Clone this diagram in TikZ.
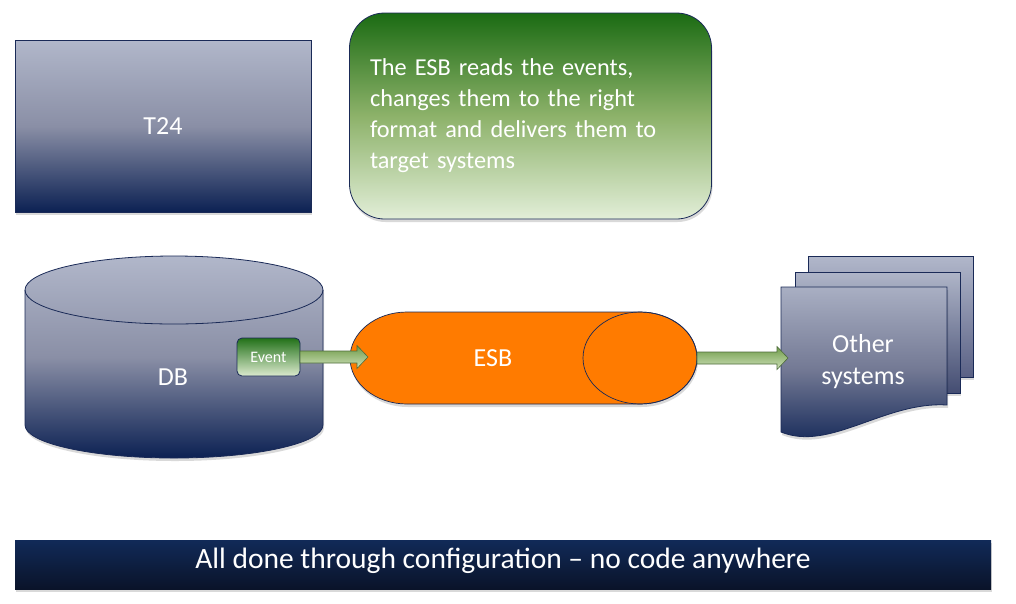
\documentclass[tikz,border=0pt]{standalone}
\usepackage{fontspec}
\setmainfont{Carlito}
\usetikzlibrary{calc,shadows}
\definecolor{navytop}{HTML}{B1B7CA}
\definecolor{navymid}{HTML}{8A8FA6}
\definecolor{navybot}{HTML}{0C2153}
\definecolor{edge}{HTML}{1A2A57}
\definecolor{gdark}{HTML}{1B6B13}
\definecolor{gmid}{HTML}{8DB26A}
\definecolor{glight}{HTML}{E2EED8}
\definecolor{edark}{HTML}{227119}
\definecolor{elight}{HTML}{DCEACE}
\definecolor{atop}{HTML}{6E9A48}
\definecolor{abot}{HTML}{CFE2BA}
\definecolor{aedge}{HTML}{4D6B3A}
\definecolor{esborange}{HTML}{FF7B00}
\definecolor{bartop}{HTML}{112A58}
\definecolor{barbot}{HTML}{0A1329}
\definecolor{pbackbot}{HTML}{5A6185}
\definecolor{pmidtop}{HTML}{AFB5C8}
\definecolor{pmidbot}{HTML}{444D72}
\definecolor{pfronttop}{HTML}{A9AFC3}
\definecolor{pfrontmid}{HTML}{737994}
\newcommand\ESBarrow[2]{%
  \path[fatarrow] let \p1=#1, \p2=#2 in
    (\x1,\y1+6pt) -- (\x2-11pt,\y1+6pt) -- (\x2-11pt,\y1+11.5pt) -- (\x2,\y1)
    -- (\x2-11pt,\y1-11.5pt) -- (\x2-11pt,\y1-6pt) -- (\x1,\y1-6pt) -- cycle;}
\begin{document}
\begin{tikzpicture}[x=1pt,y=-1pt,
  shadowed/.style={drop shadow={opacity=0.15,shadow xshift=1pt,shadow yshift=-3pt,fill=black}},
  navyshade/.style={top color=navytop, bottom color=navybot, middle color=navymid, draw=edge, line width=0.8pt},
  greenshade/.style={top color=gdark, bottom color=glight, middle color=gmid, draw=edge, line width=0.8pt},
  lbl/.style={text=white, font=\fontsize{26}{32}\selectfont, inner sep=0pt, align=center},
  fatarrow/.style={top color=atop, bottom color=abot, draw=aedge, line width=0.6pt},
  boxnode/.style={inner sep=0pt, outer sep=0pt}
]
\fill[white] (0,0) rectangle (1016,603);
\useasboundingbox (0,0) rectangle (1016,603);

% T24
\node[navyshade, shadowed, boxnode, minimum width=296pt, minimum height=172pt,
      text=white, font=\fontsize{26}{30}\selectfont] (t24) at (163,126) {T24};

% Note box
\node[greenshade, shadowed, rounded corners=35pt, minimum width=362pt, minimum height=206pt,
      text width=321pt, align=left, text=white, font=\fontsize{24.3}{31}\selectfont]
      (note) at (530.5,116)
      {The ESB reads the events,\\changes them to the right\\format and delivers them to\\target systems};

% DB cylinder
\path[navyshade, shadowed]
  (25,290) -- (25,425) arc[start angle=180, end angle=0, x radius=149, y radius=33]
  -- (323,290) arc[start angle=0, end angle=-180, x radius=149, y radius=34] -- cycle;
\draw[edge, line width=0.8pt] (25,290) arc[start angle=180, end angle=0, x radius=149, y radius=34];
\node[boxnode, minimum width=298pt, minimum height=202pt] (db) at (174,357) {};
\node[lbl] (dblabel) at (173,377) {DB};

% Event
\node[top color=edark, bottom color=elight, draw=edge, line width=0.8pt, rounded corners=5pt,
      boxnode, minimum width=63pt, minimum height=38pt, text=white,
      font=\fontsize{16}{18}\selectfont] (ev) at (268.5,357) {Event};

% ESB
\path[fill=esborange, draw=edge, line width=0.7pt, shadowed]
  (407,312) -- (640,312) arc[start angle=-90, end angle=90, x radius=57, y radius=46]
  -- (407,404) arc[start angle=90, end angle=270, x radius=57, y radius=46] -- cycle;
\draw[edge, line width=0.7pt] (640,358) ellipse[x radius=57, y radius=46];
\node[boxnode, minimum width=347pt, minimum height=92pt] (esb) at (523.5,358) {};
\node[lbl] (esblabel) at (493,358) {ESB};

% Other systems (multi-document)
\path[top color=navytop, bottom color=pbackbot, draw=edge, line width=0.8pt, shadowed]
  (808,256) rectangle (973,377);
\path[top color=pmidtop, bottom color=pmidbot, draw=edge, line width=0.8pt, shadowed]
  (795,272) rectangle (960,393);
\path[top color=pfronttop, bottom color=navybot, middle color=pfrontmid, draw=edge, line width=0.8pt, shadowed]
  (781,287) -- (947,287) -- (947,405)
  .. controls (885,401) and (830,452) .. (781,432) -- cycle;
\node[boxnode, minimum width=166pt, minimum height=150pt] (front) at (864,358) {};
\node[lbl] (otherlabel) at (863,362) {Other\\systems};

% Arrows
\ESBarrow{(ev.east)}{($(esb.west)+(18,0)$)}
\ESBarrow{(esb.east)}{($(front.west)+(7,0)$)}

% Bottom bar
\node[top color=bartop, bottom color=barbot, shadowed, boxnode, minimum width=976pt, minimum height=49pt]
      (bar) at (503,564.5) {};
\node[text=white, boxnode, font=\fontsize{29.5}{32}\selectfont] (bartext) at (503,561)
      {All done through configuration -- no code anywhere};
\end{tikzpicture}
\end{document}
